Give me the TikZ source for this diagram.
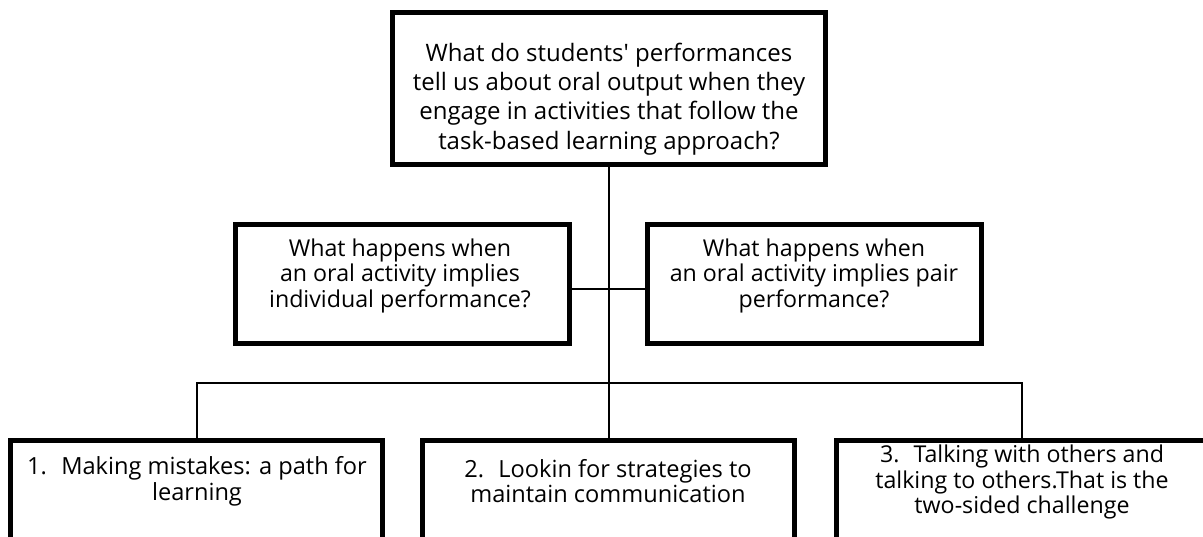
\documentclass[tikz,border=0pt]{standalone}
\usepackage{fontspec}
\setmainfont{Open Sans}
\usetikzlibrary{positioning}
\tikzset{
  qbox/.style={draw, line width=2.5pt, rectangle, inner sep=0pt},
  qtext/.style={align=center, inner sep=0pt},
  link/.style={line width=1pt}
}

\begin{document}
\begin{tikzpicture}[x=0.5pt, y=-0.5pt]
  \useasboundingbox (0,0) rectangle (1203,536);
  \clip (0,0) rectangle (1203,536);
  % boxes
  \node[qbox, minimum width=216.5pt, minimum height=76pt] (main) at (609,88.5) {};
  \node[qbox, minimum width=167pt, minimum height=59.5pt] (indiv) at (402.5,284) {};
  \node[qbox, minimum width=167pt, minimum height=59.5pt] (pair) at (814,284) {};
  \node[qbox, minimum width=186pt, minimum height=64.75pt] (mistakes) at (196.5,505.25) {};
  \node[qbox, minimum width=186pt, minimum height=64.75pt] (strategies) at (608,505.25) {};
  \node[qbox, minimum width=186pt, minimum height=64.75pt] (talking) at (1022,505.25) {};
  % texts
  \node[qtext, font=\fontsize{12}{14.6}\selectfont] (maint) at (609,99)
    {What do students\textquotesingle\ performances\\tell us about oral output when they\\engage in activities that follow the\\task-based learning approach?};
  \node[qtext, font=\fontsize{11.6}{11.4}\selectfont] (indivt) at (400,276)
    {What happens when\\an oral activity implies\\individual performance?};
  \node[qtext, font=\fontsize{11.6}{11.4}\selectfont] (pairt) at (814,276)
    {What happens when\\an oral activity implies pair\\performance?};
  \node[qtext, font=\fontsize{11.8}{12.9}\selectfont] (mistakest) at (197,481)
    {1.~ Making mistakes: a path for\\learning};
  \node[qtext, font=\fontsize{11.8}{12.9}\selectfont] (strategiest) at (608,481)
    {2.~ Lookin for strategies to\\maintain communication};
  \node[qtext, font=\fontsize{11.6}{12.9}\selectfont] (talkingt) at (1022,482)
    {3.~ Talking with others and\\talking to others.That is the\\two-sided challenge};
  % connectors
  \coordinate (hub) at (609,289);
  \coordinate (bar) at (609,383);
  \draw[link] (main.south) -- (main.south |- strategies.north);
  \draw[link] (indiv.east |- hub) -- (pair.west |- hub);
  \draw[link] (mistakes.north) |- (bar) -| (talking.north);
\end{tikzpicture}
\end{document}
